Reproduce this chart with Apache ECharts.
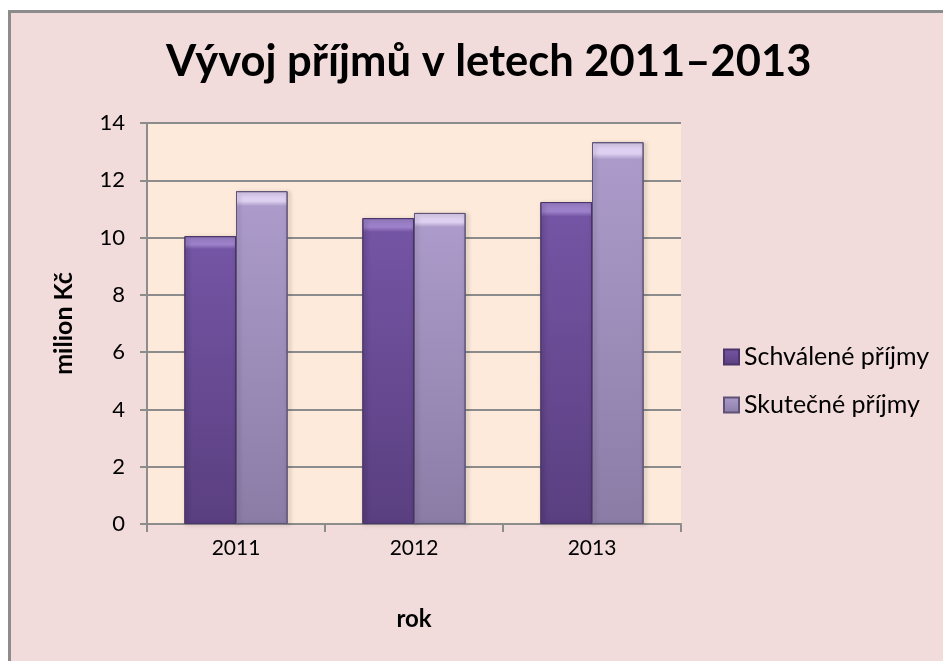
<!DOCTYPE html>
<html>
<head>
<meta charset="utf-8">
<script src="https://cdn.jsdelivr.net/npm/echarts@6/dist/echarts.min.js"></script>
<style>
  html, body { margin: 0; padding: 0; background: #ffffff; }
  #chart {
    position: absolute; left: 8px; top: 10px;
    width: 935px; height: 651px;
    border-left: 3px solid #8c8c8c; border-top: 3px solid #8c8c8c;
  }
</style>
</head>
<body>
<div id="chart"></div>
<script>
// data
const roky = ['2011', '2012', '2013'];
const schvalene = [10.05, 10.68, 11.24];
const skutecne = [11.62, 10.86, 13.33];
const yTicks = { min: 0, max: 14, interval: 2 };

const chart = echarts.init(document.getElementById('chart'));

// výplň sloupce s "zkosením" nahoře
const bevel = (hi, top, bottom) => new echarts.graphic.LinearGradient(0, 0, 0, 1, [
  { offset: 0, color: hi },
  { offset: 0.03, color: hi },
  { offset: 0.045, color: top },
  { offset: 1, color: bottom }
]);

const labelFont = 'Lato';

const options = {
  backgroundColor: '#f2dcdb',
  title: {
    text: 'Vývoj příjmů v letech 2011–2013',
    left: 150,
    top: 22,
    textStyle: { fontFamily: labelFont, fontWeight: 'bold', fontSize: 43.5, color: '#000' }
  },
  legend: {
    orient: 'vertical',
    left: 707,
    top: 326,
    itemWidth: 15,
    itemHeight: 15,
    itemGap: 22,
    icon: 'rect',
    textStyle: { fontFamily: labelFont, fontSize: 25, lineHeight: 26, color: '#000' },
    data: ['Schválené příjmy', 'Skutečné příjmy']
  },
  grid: {
    left: 136,
    top: 110,
    right: 265,
    bottom: 140,
    show: true,
    backgroundColor: '#fdeada',
    borderWidth: 0
  },
  xAxis: {
    type: 'category',
    data: roky,
    name: 'rok',
    nameLocation: 'middle',
    nameGap: 83,
    nameTextStyle: { fontFamily: labelFont, fontWeight: 'bold', fontSize: 24, color: '#000' },
    axisLine: { lineStyle: { color: '#8c8c8c', width: 2 } },
    axisTick: { show: true, length: 8, lineStyle: { color: '#8c8c8c', width: 2 } },
    axisLabel: { fontFamily: labelFont, fontSize: 21, color: '#000', margin: 14 }
  },
  yAxis: {
    type: 'value',
    min: yTicks.min,
    max: yTicks.max,
    interval: yTicks.interval,
    name: 'milion Kč',
    nameLocation: 'middle',
    nameGap: 71,
    nameTextStyle: { fontFamily: labelFont, fontWeight: 'bold', fontSize: 25, color: '#000' },
    axisLine: { show: true, lineStyle: { color: '#8c8c8c', width: 2 } },
    axisTick: { show: true, length: 7, lineStyle: { color: '#8c8c8c', width: 2 } },
    axisLabel: { fontFamily: labelFont, fontSize: 22, color: '#000', margin: 22 },
    splitLine: { lineStyle: { color: '#8c8c8c', width: 2 } }
  },
  series: [
    {
      name: 'Schválené příjmy',
      type: 'bar',
      data: schvalene,
      barGap: '0%',
      barCategoryGap: '42%',
      itemStyle: {
        color: bevel('#9c80c9', '#7454a4', '#5a3f80'),
        borderColor: '#4b3569',
        borderWidth: 1,
        shadowColor: 'rgba(0,0,0,0.35)',
        shadowBlur: 4,
        shadowOffsetX: 2,
        shadowOffsetY: 1
      }
    },
    {
      name: 'Skutečné příjmy',
      type: 'bar',
      data: skutecne,
      itemStyle: {
        color: bevel('#ddd0f0', '#ac9bca', '#8b7ca6'),
        borderColor: '#5e5277',
        borderWidth: 1,
        shadowColor: 'rgba(0,0,0,0.35)',
        shadowBlur: 4,
        shadowOffsetX: 2,
        shadowOffsetY: 1
      }
    }
  ]
};

chart.setOption(options);
window.addEventListener('resize', () => chart.resize());
</script>
</body>
</html>
